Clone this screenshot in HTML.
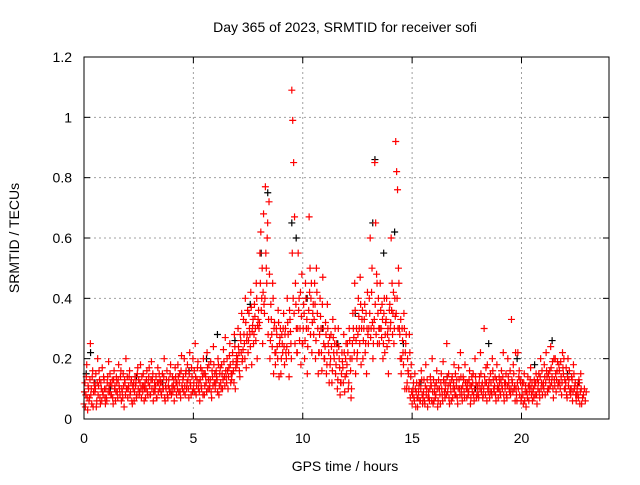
<!DOCTYPE html>
<html><head><meta charset="utf-8"><style>
body{margin:0;background:#fff;font-family:"Liberation Sans",sans-serif;}
</style></head><body>
<svg id="chart" width="640" height="480" xmlns="http://www.w3.org/2000/svg" font-family="Liberation Sans, sans-serif">
<rect width="640" height="480" fill="#fff"/>
<text x="345" y="32" font-size="14" text-anchor="middle">Day 365 of 2023, SRMTID for receiver sofi</text>
<text x="345" y="471" font-size="14" text-anchor="middle">GPS time / hours</text>
<text x="19" y="238" font-size="14" text-anchor="middle" transform="rotate(-90 19 238)">SRMTID / TECUs</text>
<g id="grid"></g><g id="ticks"></g><g id="marks"></g>
<rect x="84" y="57" width="525" height="362" fill="none" stroke="#000" stroke-width="1"/>
</svg>
<script>
const xTicks=[0,5,10,15,20];
const yTicks=[0,0.2,0.4,0.6,0.8,1,1.2];
const yTickLabels=["0","0.2","0.4","0.6","0.8","1","1.2"];
const binStart=0, binWidth=0.25;
const redVals=[
[0.05,0.12,0.08,0.18,0.03,0.1],[0.07,0.25,0.1,0.14,0.04,0.12],[0.09,0.15,0.06,0.2,0.11,0.13],[0.05,0.1,0.17,0.08,0.13,0.07],
[0.1,0.06,0.14,0.19,0.09,0.12],[0.08,0.13,0.05,0.16,0.11,0.09],[0.12,0.07,0.18,0.1,0.14,0.06],[0.09,0.15,0.04,0.12,0.2,0.1],
[0.07,0.11,0.16,0.09,0.13,0.05],[0.1,0.06,0.14,0.12,0.08,0.17],[0.13,0.09,0.18,0.07,0.11,0.15],[0.06,0.12,0.1,0.16,0.08,0.14],
[0.11,0.08,0.19,0.13,0.06,0.1],[0.09,0.14,0.07,0.17,0.12,0.1],[0.12,0.08,0.15,0.1,0.2,0.06],[0.1,0.16,0.07,0.13,0.09,0.18],
[0.08,0.14,0.11,0.06,0.17,0.12],[0.12,0.18,0.09,0.15,0.07,0.21],[0.1,0.14,0.2,0.08,0.16,0.12],[0.13,0.07,0.22,0.11,0.17,0.09],
[0.1,0.16,0.25,0.08,0.13,0.19],[0.12,0.06,0.17,0.1,0.14,0.2],[0.08,0.15,0.12,0.22,0.1,0.18],[0.11,0.19,0.07,0.14,0.24,0.12],
[0.1,0.16,0.13,0.2,0.08,0.15],[0.12,0.18,0.1,0.23,0.14,0.27],[0.14,0.2,0.1,0.17,0.25,0.12],[0.13,0.22,0.16,0.28,0.1,0.19],
[0.18,0.3,0.22,0.14,0.26,0.35],[0.2,0.33,0.25,0.4,0.17,0.28],[0.22,0.35,0.28,0.42,0.18,0.31],[0.25,0.38,0.3,0.45,0.2,0.33],
[0.3,0.55,0.62,0.4,0.25,0.68],[0.35,0.77,0.5,0.6,0.28,0.72],[0.2,0.38,0.28,0.45,0.15,0.32],[0.18,0.3,0.24,0.36,0.14,0.27],
[0.15,0.28,0.22,0.35,0.18,0.3],[0.2,0.4,0.28,0.14,0.33,0.25],[1.09,0.99,0.85,0.67,0.45,0.3],[0.22,0.55,0.4,0.3,0.18,0.48],
[0.25,0.38,0.2,0.45,0.3,0.15],[0.3,0.67,0.5,0.4,0.22,0.35],[0.28,0.45,0.2,0.5,0.35,0.15],[0.22,0.4,0.3,0.16,0.47,0.25],
[0.2,0.32,0.15,0.38,0.25,0.12],[0.18,0.28,0.12,0.33,0.22,0.25],[0.15,0.25,0.1,0.3,0.2,0.08],[0.12,0.22,0.17,0.28,0.09,0.2],
[0.15,0.25,0.1,0.3,0.2,0.07],[0.2,0.35,0.27,0.45,0.15,0.3],[0.22,0.4,0.3,0.47,0.18,0.33],[0.2,0.3,0.38,0.25,0.15,0.42],
[0.25,0.4,0.6,0.3,0.5,0.2],[0.3,0.85,0.65,0.48,0.25,0.4],[0.25,0.45,0.3,0.38,0.2,0.35],[0.22,0.32,0.4,0.28,0.15,0.36],
[0.3,0.6,0.45,0.35,0.25,0.4],[0.92,0.82,0.76,0.5,0.3,0.2],[0.15,0.3,0.22,0.35,0.1,0.25],[0.1,0.2,0.15,0.28,0.07,0.18],
[0.05,0.1,0.07,0.15,0.04,0.12],[0.04,0.09,0.12,0.06,0.16,0.08],[0.07,0.13,0.05,0.18,0.1,0.04],[0.09,0.06,0.14,0.11,0.2,0.05],
[0.06,0.11,0.08,0.16,0.04,0.13],[0.1,0.05,0.15,0.08,0.19,0.12],[0.07,0.12,0.25,0.09,0.15,0.05],[0.11,0.06,0.14,0.1,0.18,0.08],
[0.08,0.13,0.05,0.17,0.1,0.22],[0.1,0.06,0.14,0.09,0.18,0.12],[0.07,0.12,0.09,0.16,0.05,0.11],[0.09,0.15,0.06,0.2,0.12,0.08],
[0.1,0.07,0.14,0.22,0.09,0.12],[0.08,0.3,0.12,0.17,0.06,0.1],[0.11,0.07,0.15,0.09,0.2,0.13],[0.09,0.14,0.06,0.18,0.11,0.1],
[0.12,0.08,0.16,0.1,0.22,0.06],[0.1,0.15,0.07,0.2,0.12,0.09],[0.08,0.33,0.12,0.18,0.1,0.06],[0.1,0.06,0.22,0.14,0.08,0.12],
[0.07,0.12,0.05,0.15,0.09,0.04],[0.09,0.14,0.06,0.11,0.17,0.08],[0.06,0.1,0.13,0.08,0.15,0.05],[0.1,0.15,0.07,0.2,0.12,0.08],
[0.12,0.18,0.08,0.22,0.14,0.1],[0.1,0.16,0.24,0.12,0.19,0.07],[0.13,0.2,0.09,0.16,0.11,0.18],[0.12,0.19,0.08,0.22,0.15,0.1],
[0.1,0.17,0.07,0.2,0.13,0.09],[0.08,0.14,0.06,0.18,0.1,0.12],[0.06,0.1,0.08,0.13,0.05,0.15],[0.05,0.08,0.06]
];
const redVals2=[
[0.09,0.04,0.14,0.07,0.11,0.06],[0.13,0.08,0.05,0.16,0.09,0.11],[0.1,0.04,0.12,0.08,0.16,0.07],[0.12,0.06,0.09,0.14,0.1,0.05],
[0.07,0.12,0.09,0.11,0.15,0.08],[0.11,0.07,0.13,0.1,0.06,0.14],[0.09,0.13,0.11,0.08,0.16,0.1],[0.07,0.11,0.13,0.08,0.1,0.14],
[0.1,0.14,0.08,0.12,0.06,0.11],[0.12,0.09,0.11,0.07,0.15,0.1],[0.08,0.12,0.1,0.14,0.09,0.11],[0.1,0.07,0.13,0.09,0.12,0.17],
[0.08,0.13,0.1,0.15,0.09,0.12],[0.11,0.07,0.12,0.09,0.15,0.13],[0.09,0.12,0.1,0.14,0.07,0.11],[0.13,0.08,0.11,0.1,0.15,0.09],
[0.11,0.09,0.13,0.1,0.14,0.08],[0.1,0.14,0.12,0.09,0.16,0.11],[0.13,0.09,0.11,0.15,0.1,0.18],[0.1,0.15,0.12,0.08,0.14,0.2],
[0.12,0.09,0.14,0.11,0.17,0.1],[0.09,0.13,0.11,0.16,0.08,0.15],[0.11,0.14,0.09,0.17,0.13,0.1],[0.13,0.09,0.16,0.11,0.18,0.15],
[0.12,0.14,0.09,0.18,0.11,0.17],[0.1,0.15,0.13,0.19,0.11,0.16],[0.12,0.16,0.14,0.21,0.18,0.15],[0.15,0.19,0.12,0.24,0.17,0.21],
[0.2,0.24,0.16,0.28,0.22,0.19],[0.23,0.28,0.2,0.32,0.26,0.36],[0.26,0.3,0.24,0.37,0.29,0.33],[0.28,0.34,0.26,0.4,0.31,0.36],
[0.32,0.45,0.36,0.5,0.42,0.38],[0.4,0.55,0.45,0.65,0.33,0.48],[0.26,0.33,0.24,0.4,0.3,0.22],[0.22,0.28,0.2,0.32,0.25,0.3],
[0.2,0.25,0.3,0.24,0.28,0.22],[0.24,0.32,0.22,0.36,0.29,0.2],[0.55,0.4,0.35,0.25,0.38,0.22],[0.3,0.36,0.26,0.42,0.34,0.25],
[0.3,0.35,0.26,0.4,0.33,0.24],[0.36,0.42,0.28,0.45,0.32,0.38],[0.33,0.38,0.26,0.42,0.3,0.22],[0.28,0.34,0.22,0.38,0.3,0.2],
[0.24,0.28,0.18,0.3,0.22,0.27],[0.2,0.24,0.16,0.27,0.2,0.3],[0.18,0.22,0.13,0.24,0.17,0.12],[0.15,0.19,0.12,0.22,0.14,0.25],
[0.18,0.22,0.12,0.26,0.16,0.1],[0.25,0.3,0.22,0.36,0.26,0.2],[0.28,0.34,0.25,0.38,0.3,0.36],[0.26,0.33,0.22,0.35,0.3,0.28],
[0.3,0.35,0.27,0.42,0.32,0.25],[0.33,0.38,0.28,0.45,0.35,0.3],[0.3,0.36,0.27,0.33,0.25,0.4],[0.28,0.33,0.24,0.3,0.26,0.38],
[0.32,0.36,0.28,0.42,0.3,0.34],[0.35,0.4,0.3,0.45,0.28,0.33],[0.2,0.26,0.18,0.3,0.22,0.28],[0.12,0.16,0.1,0.22,0.14,0.09],
[0.08,0.12,0.06,0.1,0.09,0.07],[0.07,0.11,0.06,0.1,0.13,0.05],[0.09,0.06,0.11,0.08,0.13,0.07],[0.07,0.1,0.12,0.06,0.09,0.13],
[0.09,0.07,0.12,0.1,0.06,0.1],[0.08,0.12,0.1,0.06,0.13,0.09],[0.1,0.08,0.14,0.11,0.07,0.12],[0.09,0.13,0.07,0.12,0.1,0.15],
[0.11,0.07,0.1,0.13,0.08,0.14],[0.08,0.11,0.13,0.07,0.12,0.1],[0.1,0.08,0.13,0.11,0.07,0.14],[0.12,0.08,0.1,0.14,0.07,0.11],
[0.08,0.12,0.1,0.15,0.11,0.07],[0.1,0.14,0.08,0.12,0.18,0.09],[0.13,0.09,0.12,0.08,0.16,0.1],[0.11,0.08,0.13,0.1,0.07,0.14],
[0.09,0.13,0.11,0.14,0.08,0.12],[0.12,0.08,0.11,0.14,0.1,0.16],[0.1,0.13,0.09,0.15,0.11,0.22],[0.08,0.12,0.1,0.16,0.13,0.06],
[0.1,0.08,0.12,0.06,0.11,0.09],[0.07,0.11,0.09,0.13,0.1,0.12],[0.09,0.07,0.11,0.12,0.08,0.13],[0.12,0.09,0.14,0.1,0.16,0.11],
[0.1,0.14,0.12,0.16,0.09,0.15],[0.13,0.11,0.17,0.14,0.1,0.2],[0.11,0.15,0.13,0.19,0.12,0.16],[0.1,0.14,0.12,0.17,0.2,0.13],
[0.12,0.08,0.14,0.11,0.16,0.1],[0.1,0.13,0.09,0.15,0.11,0.08],[0.08,0.11,0.07,0.12,0.09,0.1],[0.07,0.1,0.09]
];
const blackTimes=[0.1,0.3,0.5,1.2,2.4,3.6,4.8,5.6,6.1,6.9,7.6,8.1,8.4,9.5,9.7,10.2,10.9,11.6,12.4,13.2,13.3,13.7,14.2,14.6,15.4,16.6,17.9,18.5,19.8,20.6,21.4,22.1,22.6];
const blackVals=[0.15,0.22,0.12,0.1,0.14,0.12,0.16,0.2,0.28,0.26,0.38,0.55,0.75,0.65,0.6,0.4,0.3,0.25,0.35,0.65,0.86,0.55,0.62,0.25,0.12,0.14,0.1,0.25,0.2,0.18,0.26,0.15,0.12];
const X0=84,X1=609,Y0=419,Y1=57,XMAX=24,YMAX=1.2;
function sx(t){return X0+(X1-X0)*t/XMAX;}
function sy(v){return Y0-(Y0-Y1)*v/YMAX;}
const NS="http://www.w3.org/2000/svg";
const grid=document.getElementById('grid'),ticks=document.getElementById('ticks'),marks=document.getElementById('marks');
function mk(tag,attrs,parent){const e=document.createElementNS(NS,tag);for(const k in attrs)e.setAttribute(k,attrs[k]);parent.appendChild(e);return e;}
xTicks.forEach(t=>{
  const x=sx(t);
  if(t>0){const g=mk('line',{x1:x,x2:x,y1:Y0,y2:Y1,stroke:'#a0a0a0','stroke-dasharray':'2,3'},grid);
  
  }
  mk('line',{x1:x,x2:x,y1:Y0,y2:Y0-6,stroke:'#000'},ticks);
  mk('line',{x1:x,x2:x,y1:Y1,y2:Y1+6,stroke:'#000'},ticks);
  const l=mk('text',{x:x,y:Y0+24,'font-size':14,'text-anchor':'middle'},ticks);l.textContent=t;
  
  
});
yTicks.forEach((v,i)=>{
  const y=sy(v);
  if(v>0&&v<YMAX){const g=mk('line',{x1:X0,x2:X1,y1:y,y2:y,stroke:'#a0a0a0','stroke-dasharray':'2,3'},grid);
  
  }
  mk('line',{x1:X0,x2:X0+6,y1:y,y2:y,stroke:'#000'},ticks);
  mk('line',{x1:X1,x2:X1-6,y1:y,y2:y,stroke:'#000'},ticks);
  const l=mk('text',{x:X0-12,y:y+5,'font-size':14,'text-anchor':'end'},ticks);l.textContent=yTickLabels[i];
  
  
});
function cross(x,y,color,name){
  const p=mk('path',{d:`M${x-3.5},${y}h7M${x},${y-3.5}v7`,stroke:color,'stroke-width':1.2,fill:'none'},marks);
  
  
}
blackTimes.forEach((t,i)=>cross(sx(t),sy(blackVals[i]),'#000','black-point'));
function drawRed(arr,offset){
  arr.forEach((bin,b)=>{
    bin.forEach((v,j)=>{
      const t=binStart+b*binWidth+(j+offset)*binWidth/bin.length;
      cross(sx(t),sy(v),'#ff0000','red-point');
    });
  });
}
drawRed(redVals,0);
drawRed(redVals2,0.5);
</script>
</body></html>
